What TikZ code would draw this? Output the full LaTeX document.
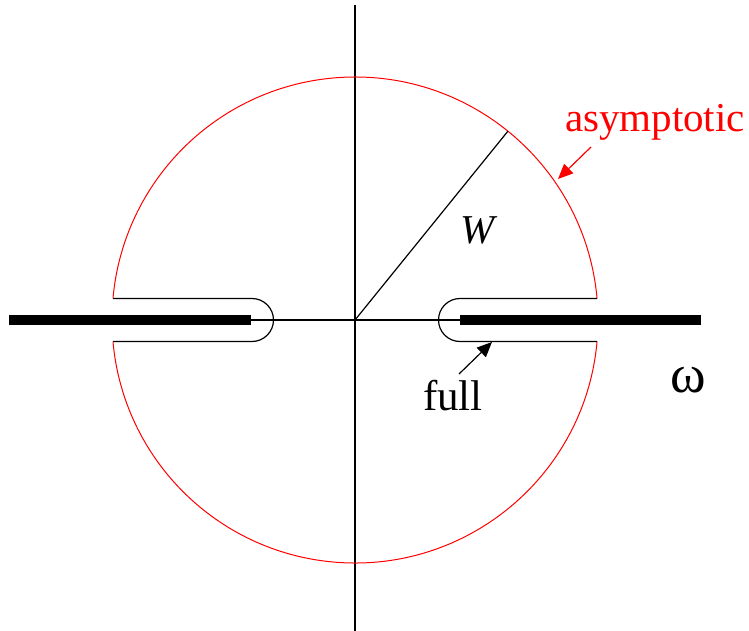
\documentclass[tikz,border=0pt]{standalone}
\usepackage{fontspec}
\setmainfont{Liberation Serif}
\usetikzlibrary{arrows.meta, positioning, calc}

\tikzset{
  axis/.style={line width=0.7pt},
  cut/.style={line width=4.6pt},
  contour/.style={line width=0.6pt},
  bigarc/.style={red, line width=0.5pt},
  pointer/.style={line width=0.6pt, -{Triangle[length=7.5pt, width=6.5pt]}}
}

\begin{document}
\begin{tikzpicture}[x=0.5pt, y=-0.5pt, font=\fontsize{20.5}{24}\selectfont]

\useasboundingbox (0,0) rectangle (749,631);

\coordinate (O) at (355,320);

% axes
\draw[axis] (355,5) -- (355,631);
\draw[axis] (251,320) -- (460,320);

% branch cuts
\draw[cut] (9,320) -- (251,320);
\draw[cut] (460,320) -- (701,320);

% large arcs
\draw[bigarc] (O) ++(-5.08:243) arc (-5.08:-174.92:243);
\draw[bigarc] (O) ++(5.08:243) arc (5.08:174.92:243);

% keyholes round the cuts
\draw[contour] (113,298.5) -- (252,298.5) arc (-90:90:21.5) -- (113,341.5);
\draw[contour] (597,298.5) -- (460,298.5) arc (-90:-270:21.5) -- (597,341.5);

% radius
\coordinate (rim) at ($(O)+(-51:243)$);
\draw[contour] (O) -- (rim);
\node (W) at (478,230) {\itshape W};

% labels
\node[red] (asym) at (655,122) {asymptotic};
\coordinate (asymfrom) at (591,147);
\coordinate (asymtip) at (558,179);
\draw[pointer, red] (asymfrom) -- (asymtip);

\node (full) at (453,396) {\fontsize{21.5}{24}\selectfont full};
\coordinate (fullfrom) at (459,374);
\coordinate (fulltip) at (492,342);
\draw[pointer] (fullfrom) -- (fulltip);

\node (omega) at (688,380) {\fontsize{27}{30}\selectfont ω};

\end{tikzpicture}
\end{document}
